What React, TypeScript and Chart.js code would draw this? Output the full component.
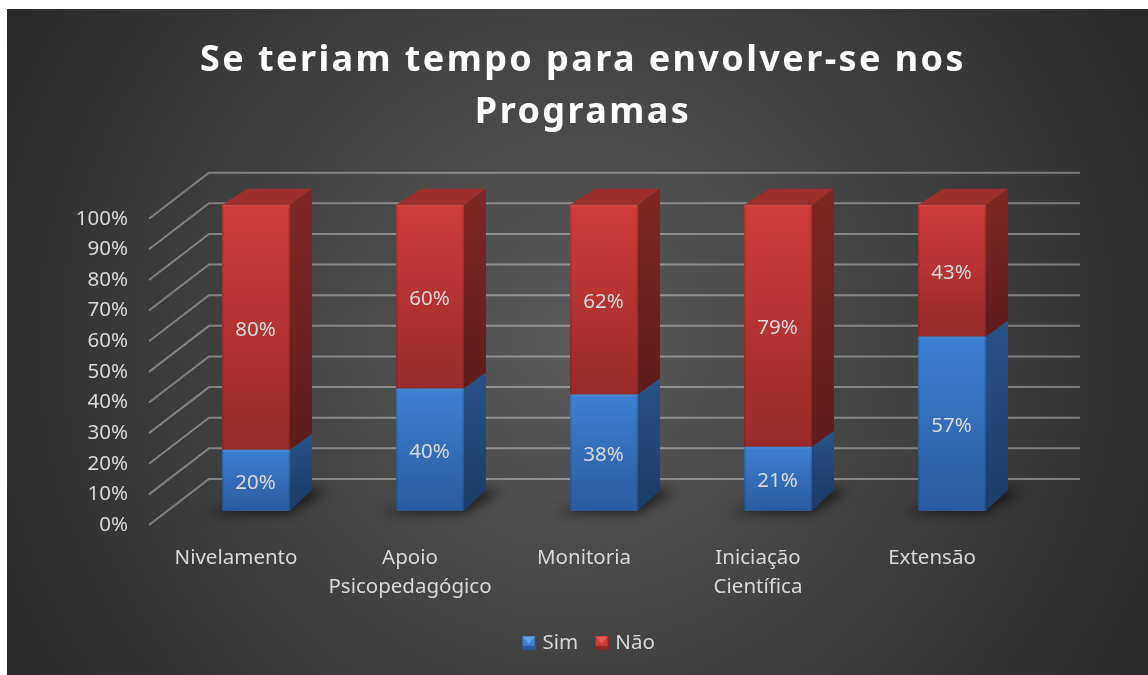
import React, { useEffect, useRef } from "react";
import { Chart, registerables } from "chart.js";

Chart.register(...registerables);

const categories = ["Nivelamento", ["Apoio", "Psicopedagógico"], "Monitoria", ["Iniciação", "Científica"], "Extensão"];
const simValues = [20, 40, 38, 21, 57];
const naoValues = [80, 60, 62, 79, 43];
const seriesNames = ["Sim", "Não"];
const titleLines = ["Se teriam tempo para envolver-se nos", "Programas"];
const yTickStep = 10;

const FONT = "'Noto Sans'";
const TEXT = "#d9d9d9";
const DEPTH_X = 22;
const DEPTH_Y = 16;
const PALETTE = [
  { top: "#3d80d2", bottom: "#2a5b9e", sideTop: "#285288", sideBottom: "#1d3d6b", cap: "#2c5a94", glow: "#62a4ea" },
  { top: "#d03c39", bottom: "#982b2a", sideTop: "#802724", sideBottom: "#601d1c", cap: "#9c2e2b", glow: "#ea5a56" },
];

function marker(c: (typeof PALETTE)[number]) {
  const cv = document.createElement("canvas");
  cv.width = 14;
  cv.height = 14;
  const g = cv.getContext("2d")!;
  g.fillStyle = c.top;
  g.fillRect(0, 0, 14, 14);
  g.fillStyle = c.sideTop;
  g.fillRect(0, 0, 1, 14);
  g.fillRect(13, 0, 1, 14);
  g.fillRect(0, 13, 14, 1);
  g.fillStyle = c.bottom;
  g.fillRect(1, 10, 12, 3);
  g.fillStyle = c.glow;
  g.beginPath();
  g.moveTo(1, 1);
  g.lineTo(13, 1);
  g.lineTo(7, 8);
  g.closePath();
  g.fill();
  return cv;
}

const wall3d = {
  id: "wall3d",
  beforeDraw(chart: any) {
    const { ctx } = chart;
    ctx.save();
    const g = ctx.createRadialGradient(577, 342, 0, 577, 342, 650);
    g.addColorStop(0, "#5a5a5a");
    g.addColorStop(1, "#2a2a2a");
    ctx.fillStyle = g;
    ctx.fillRect(7, 9, 1141, 666);
    ctx.restore();
  },
  beforeDatasetsDraw(chart: any) {
    const { ctx, chartArea, scales } = chart;
    ctx.save();
    ctx.strokeStyle = "rgba(255,255,255,0.36)";
    ctx.lineWidth = 2;
    for (let v = 0; v <= 100; v += yTickStep) {
      const y = scales.y.getPixelForValue(v);
      ctx.beginPath();
      ctx.moveTo(chartArea.left - 20, y + 14);
      ctx.lineTo(chartArea.left + 40, y - 32);
      ctx.lineTo(chartArea.right + 41, y - 32);
      ctx.stroke();
    }
    ctx.restore();
    const metas = [chart.getDatasetMeta(0), chart.getDatasetMeta(1)];
    // floor shadow
    metas[0].data.forEach((b: any) => {
      const l = b.x - b.width / 2;
      const r = b.x + b.width / 2;
      ctx.save();
      ctx.filter = "blur(6px)";
      ctx.fillStyle = "rgba(0,0,0,0.6)";
      ctx.beginPath();
      ctx.moveTo(l - 16, b.base + 2);
      ctx.lineTo(r, b.base + 2);
      ctx.lineTo(r + 38, b.base - 21);
      ctx.lineTo(r, b.base - 21);
      ctx.closePath();
      ctx.fill();
      ctx.restore();
    });
    // side and top faces
    metas.forEach((meta: any, i: number) => {
      const c = PALETTE[i];
      meta.data.forEach((b: any) => {
        const l = b.x - b.width / 2;
        const r = b.x + b.width / 2;
        const grad = ctx.createLinearGradient(0, b.y - DEPTH_Y, 0, b.base - DEPTH_Y);
        grad.addColorStop(0, c.sideTop);
        grad.addColorStop(1, c.sideBottom);
        ctx.fillStyle = grad;
        ctx.beginPath();
        ctx.moveTo(r, b.y);
        ctx.lineTo(r + DEPTH_X, b.y - DEPTH_Y);
        ctx.lineTo(r + DEPTH_X, b.base - (i === 0 ? 21 : DEPTH_Y));
        ctx.lineTo(r, b.base);
        ctx.closePath();
        ctx.fill();
        if (i === 1) {
          ctx.fillStyle = c.cap;
          ctx.beginPath();
          ctx.moveTo(l, b.y);
          ctx.lineTo(l + DEPTH_X + 3, b.y - DEPTH_Y);
          ctx.lineTo(r + DEPTH_X, b.y - DEPTH_Y);
          ctx.lineTo(r, b.y);
          ctx.closePath();
          ctx.fill();
        }
      });
    });
  },
  afterDatasetsDraw(chart: any) {
    const { ctx } = chart;
    ctx.save();
    // soft bevel on each front face
    chart.data.datasets.forEach((_: any, i: number) => {
      chart.getDatasetMeta(i).data.forEach((b: any) => {
        const l = b.x - b.width / 2;
        const h = b.base - b.y;
        ctx.fillStyle = "rgba(0,0,0,0.12)";
        ctx.fillRect(l, b.y, 1.5, h);
        ctx.fillRect(l + b.width - 1.5, b.y, 1.5, h);
        ctx.fillStyle = "rgba(255,255,255,0.06)";
        ctx.fillRect(l, b.y, b.width, 2);
      });
    });
    ctx.font = `20.5px ${FONT}`;
    ctx.fillStyle = TEXT;
    ctx.textAlign = "center";
    ctx.textBaseline = "middle";
    chart.data.datasets.forEach((ds: any, i: number) => {
      chart.getDatasetMeta(i).data.forEach((b: any, j: number) => {
        ctx.fillText(`${ds.data[j]}%`, b.x - 0.5, (b.y + b.base) / 2 + 2.5);
      });
    });
    ctx.restore();
  },
};

function frontFill(series: number) {
  return (c: any) => {
    const chart = c.chart;
    const sc = chart.scales && chart.scales.y;
    if (!sc || c.dataIndex === undefined) return PALETTE[series].top;
    const sim = simValues[c.dataIndex];
    const from = sc.getPixelForValue(series === 0 ? 0 : sim);
    const to = sc.getPixelForValue(series === 0 ? sim : 100);
    if (!Number.isFinite(from) || !Number.isFinite(to)) return PALETTE[series].top;
    const g = chart.ctx.createLinearGradient(0, to, 0, from);
    g.addColorStop(0, PALETTE[series].top);
    g.addColorStop(1, PALETTE[series].bottom);
    return g;
  };
}

export default function App() {
  const ref = useRef<HTMLCanvasElement>(null);
  useEffect(() => {
    document.body.style.margin = "0";
    const markers = PALETTE.map(marker);
    const chart = new Chart(ref.current!, {
      type: "bar",
      data: {
        labels: categories as any,
        datasets: [
          { label: seriesNames[0], data: simValues, backgroundColor: frontFill(0) as any, stack: "s" },
          { label: seriesNames[1], data: naoValues, backgroundColor: frontFill(1) as any, stack: "s" },
        ],
      },
      options: {
        responsive: false,
        animation: false,
        layout: { padding: { top: 0, right: 0, bottom: 12, left: 18 } },
        datasets: { bar: { categoryPercentage: 1, barPercentage: 0.39 } },
        scales: {
          x: {
            stacked: true,
            grid: { display: false, drawTicks: false },
            border: { display: false },
            afterFit: (s: any) => { s.height = 101.5; },
            ticks: {
              color: TEXT,
              font: { family: FONT, size: 20.5, lineHeight: 1.4 },
              padding: 33,
              labelOffset: -20,
              maxRotation: 0,
              autoSkip: false,
            },
          },
          y: {
            stacked: true,
            min: 0,
            max: 100,
            grid: { display: false, drawTicks: false },
            border: { display: false },
            afterFit: (s: any) => { s.width = 151; },
            ticks: {
              stepSize: yTickStep,
              color: TEXT,
              font: { family: FONT, size: 20.5 },
              padding: 41,
              labelOffset: 14,
              callback: (v: any) => `${v}%`,
            },
          },
          rightGutter: {
            position: "right",
            min: 0,
            max: 100,
            grid: { display: false, drawTicks: false },
            border: { display: false },
            ticks: { display: false },
            afterFit: (s: any) => { s.width = 109; },
          },
        },
        plugins: {
          tooltip: { enabled: false },
          title: {
            display: true,
            text: titleLines,
            color: "#ffffff",
            font: { family: FONT, size: 36, weight: "bold", lineHeight: 1.44 },
            padding: { top: 35, bottom: 66 },
          },
          legend: {
            position: "bottom",
            labels: {
              color: TEXT,
              font: { family: FONT, size: 20.5 },
              usePointStyle: true,
              pointStyleWidth: 7,
              padding: 20,
              generateLabels: (c: any) =>
                (Chart.defaults.plugins.legend.labels as any).generateLabels(c).map((it: any, i: number) => ({
                  ...it,
                  pointStyle: markers[i],
                })),
            },
          },
        },
      },
      plugins: [wall3d],
    } as any);
    const tb: any = (chart as any).titleBlock;
    const origTitle = tb.draw;
    tb.draw = function () {
      const c = this.ctx;
      c.save();
      c.letterSpacing = "2.4px";
      origTitle.call(this);
      c.restore();
    };
    const lg: any = (chart as any).legend;
    const origLegend = lg.draw;
    lg.draw = function () {
      const c = this.ctx;
      c.save();
      c.translate(7, 0);
      origLegend.call(this);
      c.restore();
    };
    chart.draw();
    return () => chart.destroy();
  }, []);
  return <canvas ref={ref} width={1148} height={675} style={{ display: "block" }} />;
}
